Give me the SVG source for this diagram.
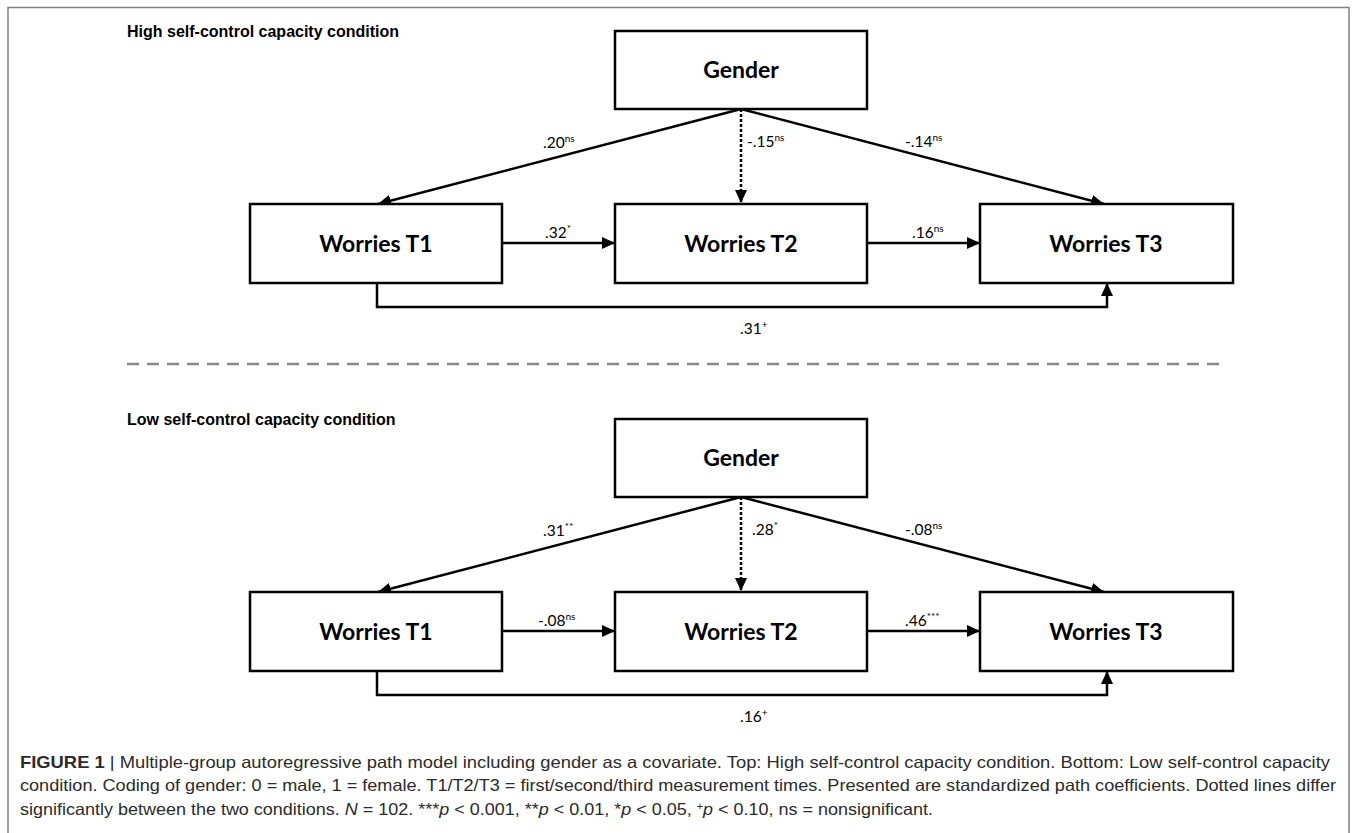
<svg xmlns="http://www.w3.org/2000/svg" width="1356" height="833" viewBox="0 0 1356 833">
<defs>
<marker id="ah" viewBox="0 0 13 12" refX="13" refY="6" markerWidth="13" markerHeight="12" markerUnits="userSpaceOnUse" orient="auto">
<path d="M0,0 L13,6 L0,12 z" fill="#000"/>
</marker>
</defs>
<style>
.box{fill:#fff;stroke:#000;stroke-width:2.5}
.nl{font-family:Lato,"Liberation Sans",sans-serif;font-weight:bold;font-size:23px;fill:#000;text-anchor:middle}
.el{font-family:Lato,"Liberation Sans",sans-serif;font-size:15.5px;fill:#000}
.sup{font-size:10px}
.ln{fill:none;stroke:#000;stroke-width:2.5}
.dot{stroke-dasharray:3 2}
.ttl{font-family:"Liberation Sans",Arial,sans-serif;font-weight:bold;font-size:16px;fill:#000}
.cap{font-family:"Liberation Sans",Arial,sans-serif;font-size:16.5px;fill:#2b2b2b}
</style>
<rect width="1356" height="833" fill="#fff"/>
<path d="M8,833 V7.5 H1349 V833" fill="none" stroke="#808080" stroke-width="1.5"/>

<text class="ttl" x="127" y="37">High self-control capacity condition</text>
<text class="ttl" x="127" y="425">Low self-control capacity condition</text>

<line x1="127" y1="364" x2="1222" y2="364" stroke="#888" stroke-width="2.5" stroke-dasharray="12 8"/>

<g id="connectors">
<line class="ln" x1="741" y1="109" x2="378" y2="204" marker-end="url(#ah)"/>
<line class="ln dot" x1="741" y1="109" x2="741" y2="203" marker-end="url(#ah)"/>
<line class="ln" x1="741" y1="109" x2="1104" y2="204" marker-end="url(#ah)"/>
<line class="ln" x1="502" y1="243" x2="615" y2="243" marker-end="url(#ah)"/>
<line class="ln" x1="867" y1="243" x2="980" y2="243" marker-end="url(#ah)"/>
<path class="ln" d="M377,283 V307 H1107 V283" marker-end="url(#ah)"/>

<line class="ln" x1="741" y1="497" x2="378" y2="592" marker-end="url(#ah)"/>
<line class="ln dot" x1="741" y1="497" x2="741" y2="591" marker-end="url(#ah)"/>
<line class="ln" x1="741" y1="497" x2="1104" y2="592" marker-end="url(#ah)"/>
<line class="ln" x1="502" y1="631" x2="615" y2="631" marker-end="url(#ah)"/>
<line class="ln" x1="867" y1="631" x2="980" y2="631" marker-end="url(#ah)"/>
<path class="ln" d="M377,671 V695 H1107 V671" marker-end="url(#ah)"/>

<text class="el" x="543" y="148">.20<tspan class="sup" dy="-6">ns</tspan></text>
<text class="el" x="747" y="147">-.15<tspan class="sup" dy="-6">ns</tspan></text>
<text class="el" x="905" y="147">-.14<tspan class="sup" dy="-6">ns</tspan></text>
<text class="el" x="545" y="238">.32<tspan class="sup" dy="-6">*</tspan></text>
<text class="el" x="912" y="238">.16<tspan class="sup" dy="-6">ns</tspan></text>
<text class="el" x="740" y="334">.31<tspan class="sup" dy="-6">+</tspan></text>

<text class="el" x="543" y="536">.31<tspan class="sup" dy="-6">**</tspan></text>
<text class="el" x="752" y="535">.28<tspan class="sup" dy="-6">*</tspan></text>
<text class="el" x="905" y="535">-.08<tspan class="sup" dy="-6">ns</tspan></text>
<text class="el" x="538" y="626">-.08<tspan class="sup" dy="-6">ns</tspan></text>
<text class="el" x="905" y="626">.46<tspan class="sup" dy="-6">***</tspan></text>
<text class="el" x="740" y="722">.16<tspan class="sup" dy="-6">+</tspan></text>
</g>

<g id="gender-top"><rect class="box" x="615" y="31" width="252" height="78"/><text class="nl" x="741" y="78">Gender</text></g>
<g id="t1-top"><rect class="box" x="250" y="204" width="252" height="79"/><text class="nl" x="376" y="252">Worries T1</text></g>
<g id="t2-top"><rect class="box" x="615" y="204" width="252" height="79"/><text class="nl" x="741" y="252">Worries T2</text></g>
<g id="t3-top"><rect class="box" x="980" y="204" width="253" height="79"/><text class="nl" x="1106" y="252">Worries T3</text></g>

<g id="gender-bottom"><rect class="box" x="615" y="419" width="252" height="78"/><text class="nl" x="741" y="466">Gender</text></g>
<g id="t1-bottom"><rect class="box" x="250" y="592" width="252" height="79"/><text class="nl" x="376" y="640">Worries T1</text></g>
<g id="t2-bottom"><rect class="box" x="615" y="592" width="252" height="79"/><text class="nl" x="741" y="640">Worries T2</text></g>
<g id="t3-bottom"><rect class="box" x="980" y="592" width="253" height="79"/><text class="nl" x="1106" y="640">Worries T3</text></g>

<g id="caption">
<text class="cap" x="20" y="768" textLength="1310" lengthAdjust="spacingAndGlyphs"><tspan font-weight="bold">FIGURE 1</tspan> | Multiple-group autoregressive path model including gender as a covariate. Top: High self-control capacity condition. Bottom: Low self-control capacity</text>
<text class="cap" x="20" y="791" textLength="1316" lengthAdjust="spacingAndGlyphs">condition. Coding of gender: 0 = male, 1 = female. T1/T2/T3 = first/second/third measurement times. Presented are standardized path coefficients. Dotted lines differ</text>
<text class="cap" x="20" y="815" textLength="913" lengthAdjust="spacingAndGlyphs">significantly between the two conditions. <tspan font-style="italic">N</tspan> = 102. ***<tspan font-style="italic">p</tspan> &lt; 0.001, **<tspan font-style="italic">p</tspan> &lt; 0.01, *<tspan font-style="italic">p</tspan> &lt; 0.05, <tspan font-size="10" dy="-5">+</tspan><tspan font-style="italic" dy="5">p</tspan> &lt; 0.10, ns = nonsignificant.</text>
</g>
</svg>
